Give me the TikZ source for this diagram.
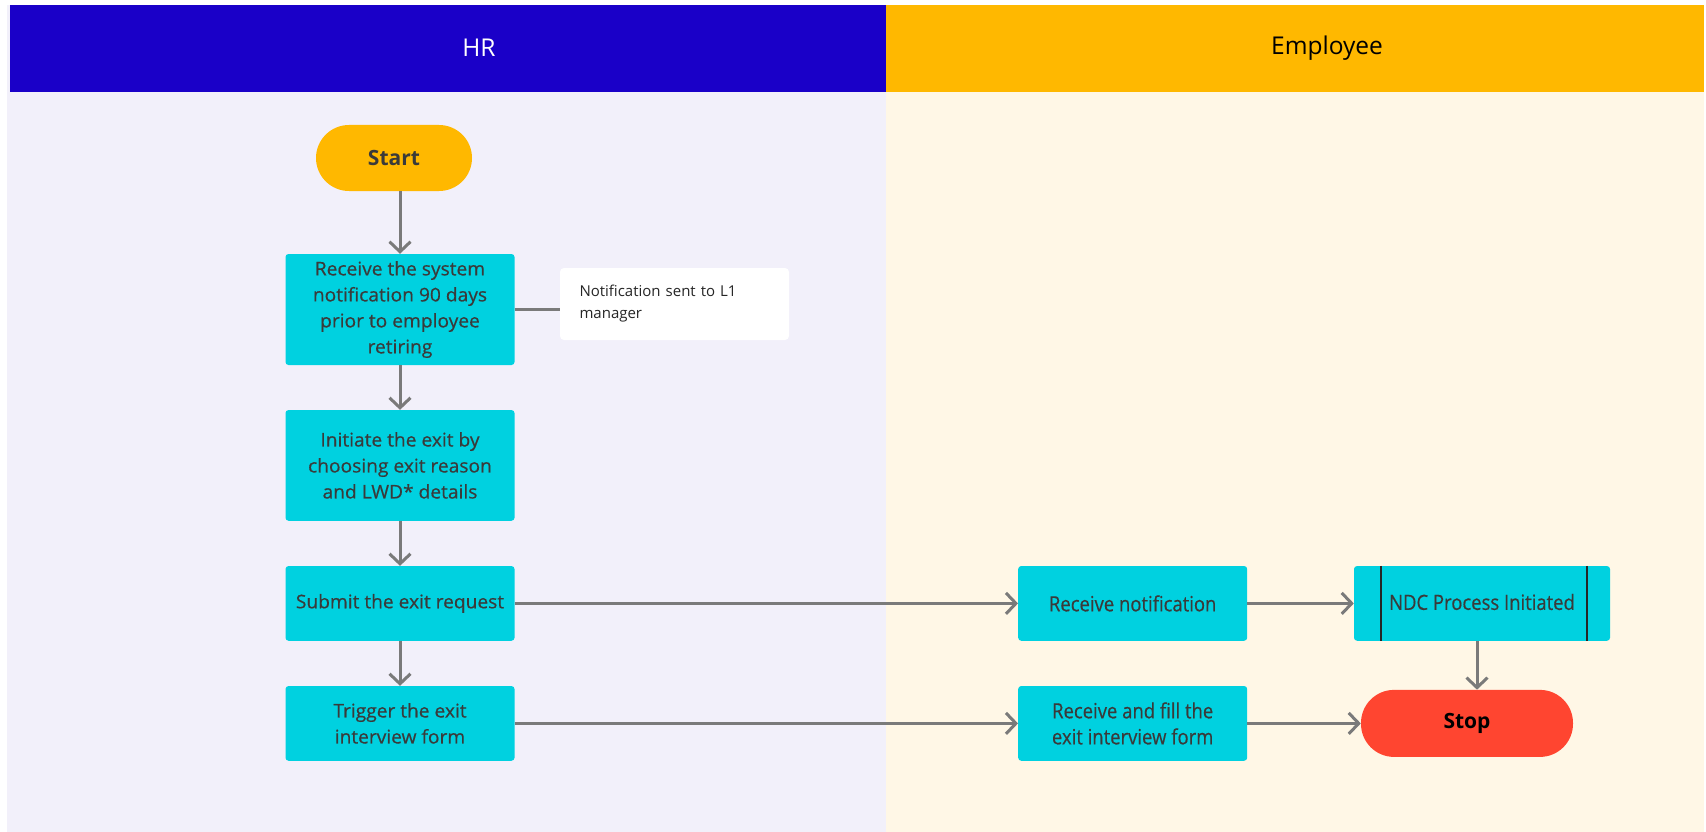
\documentclass[tikz,border=0pt]{standalone}
\usepackage{fontspec}
\setmainfont{Open Sans}
\newfontfamily\boxfont[FakeBold=0.5,FakeStretch=1.02]{Open Sans}
\newfontfamily\narrowfont[FakeBold=0.4,FakeStretch=0.88]{Open Sans}
\usetikzlibrary{arrows.meta,calc}

\definecolor{hrhead}{HTML}{1A00C8}
\definecolor{emphead}{HTML}{FFB800}
\definecolor{hrlane}{HTML}{F2F0FA}
\definecolor{emplane}{HTML}{FFF7E6}
\definecolor{procfill}{HTML}{00D1E0}
\definecolor{startfill}{HTML}{FFB800}
\definecolor{stopfill}{HTML}{FF4530}
\definecolor{txt}{HTML}{3A3A3A}
\definecolor{flow}{HTML}{7A7A7A}

\tikzset{
  lanetitle/.style={font=\fontsize{24.5}{28}\selectfont, inner sep=0pt},
  process/.style={rectangle, rounded corners=3pt, fill=procfill, draw=none,
    minimum width=229pt, text=txt, align=center, inner sep=0pt,
    font=\boxfont\fontsize{18.8}{26}\selectfont},
  eprocess/.style={process, font=\narrowfont\fontsize{21}{26}\selectfont},
  terminal/.style={rectangle, rounded corners=33pt, draw=none,
    font=\bfseries\fontsize{21}{24}\selectfont, inner sep=0pt},
  notebox/.style={rectangle, rounded corners=4pt, fill=white, draw=none,
    minimum width=229pt, minimum height=72pt, text width=190pt, align=left,
    inner sep=0pt, font=\fontsize{15}{22}\selectfont, text=black!85},
  flowline/.style={draw=flow, line width=3pt},
  flowarrow/.style={flowline, -{Straight Barb[length=10pt,width=21pt,line width=3pt]}},
}

\begin{document}
\begin{tikzpicture}[x=1pt,y=-1pt]
\useasboundingbox (0,0) rectangle (1706,832);

% swimlanes
\fill[hrlane] (7,5) rectangle (886,832);
\fill[emplane] (886,5) rectangle (1704,832);
\fill[hrhead] (10,5) rectangle (886,91.7);
\fill[emphead] (886,5) rectangle (1704,91.7);
\node[lanetitle, text=white] (hrtitle) at (479,48) {HR};
\node[lanetitle, text=black] (emptitle) at (1327,48) {Employee};

% HR lane
\node[terminal, fill=startfill, text=txt, minimum width=156pt, minimum height=66pt] (start) at (394,158) {Start};
\node[process, minimum height=111pt] (notify) at (400,309.5)
  {Receive the system\\notification 90 days\\prior to employee\\retiring};
\node[notebox] (note) at (674.5,304) {Notification sent to L1\\manager};
\node[process, minimum height=110.7pt] (initiate) at (400,465.4)
  {Initiate the exit by\\choosing exit reason\\and LWD* details};
\node[process, minimum height=74.7pt] (submit) at (400,603.4) {Submit the exit request};
\node[process, minimum height=74.7pt] (trigger) at (400,723.4) {Trigger the exit\\interview form};

% Employee lane
\node[eprocess, minimum height=74.7pt] (recv) at (1132.7,603.4) {Receive notification};
\node[eprocess, minimum height=74.7pt] (fill) at (1132.7,723.4) {Receive and fill the\\exit interview form};
\node[eprocess, minimum width=256pt, minimum height=74.7pt] (ndc) at (1482,603.4)
  {\raisebox{3pt}{NDC Process Initiated}};
\draw[line width=1.6pt, black!85]
  ($(ndc.north west)+(27,0)$) -- ($(ndc.south west)+(27,0)$)
  ($(ndc.north east)+(-23,0)$) -- ($(ndc.south east)+(-23,0)$);
\node[terminal, fill=stopfill, text=black, minimum width=212pt, minimum height=67pt] (stop) at (1467,723.4) {Stop};

% connectors
\draw[flowarrow] (start.south -| notify.north) -- (notify.north);
\draw[flowline] (notify.east) -- (note.west |- notify.east);
\draw[flowarrow] (notify) -- (initiate);
\draw[flowarrow] (initiate) -- (submit);
\draw[flowarrow] (submit) -- (trigger);
\draw[flowarrow] (submit) -- (recv);
\draw[flowarrow] (trigger) -- (fill);
\draw[flowarrow] (recv.east) -- (ndc.west |- recv.east);
\draw[flowarrow] (fill.east) -- (stop.west |- fill.east);
\draw[flowarrow] (ndc.south -| 1477,0) -- (stop.north -| 1477,0);
\end{tikzpicture}
\end{document}
